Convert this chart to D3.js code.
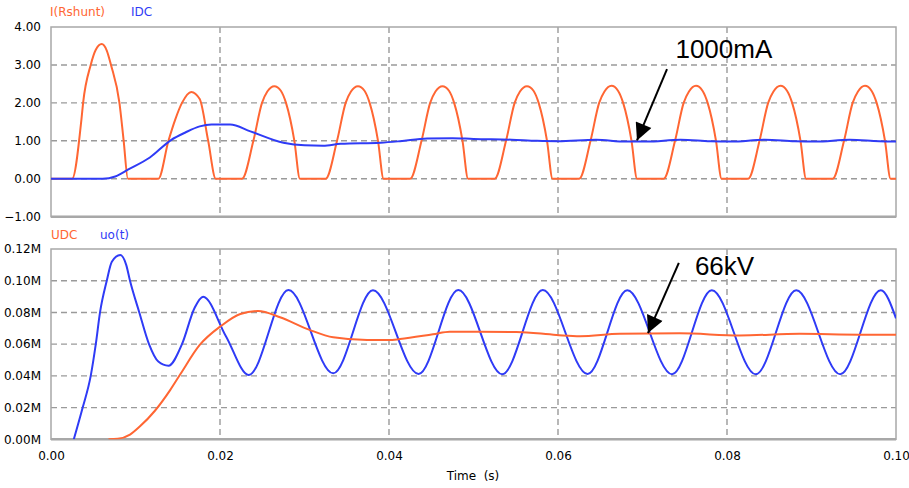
<!DOCTYPE html>
<html>
<head>
<meta charset="utf-8">
<script src="https://cdn.jsdelivr.net/npm/d3@7"></script>
<style>
  body { margin: 0; background: #fff; }
  text { font-family: "DejaVu Sans", sans-serif; }
</style>
</head>
<body>
<div id="drawing"></div>
<script>
// time in ms
const iShunt = [
  [0,0],[2.5,0],[3.6,1.56],[3.8,2.0],[4.7,3.0],[5.3,3.4],[6.0,3.55],[6.6,3.38],[7.1,3.0],[8.1,2.0],[8.6,1.0],[9.1,0],
  [12.7,0],[13.9,1.0],[14.7,1.56],[15.5,2.0],[16.6,2.29],[17.6,2.1],[18.6,1.0],[19.5,0],
  [22.6,0],[23.95,1.0],[24.97,2.0],[25.6,2.3],[26.43,2.44],[27.2,2.32],[27.81,2.0],[28.8,1.0],[29.46,0],
  [32.5,0],[33.85,1.0],[34.87,2.0],[35.5,2.3],[36.33,2.44],[37.1,2.32],[37.71,2.0],[38.7,1.0],[39.36,0],
  [42.5,0],[43.85,1.0],[44.87,2.0],[45.5,2.3],[46.33,2.44],[47.1,2.32],[47.71,2.0],[48.7,1.0],[49.36,0],
  [52.5,0],[53.85,1.0],[54.87,2.0],[55.5,2.3],[56.33,2.44],[57.1,2.32],[57.71,2.0],[58.7,1.0],[59.36,0],
  [62.5,0],[63.85,1.0],[64.87,2.0],[65.5,2.3],[66.33,2.45],[67.1,2.32],[67.71,2.0],[68.7,1.0],[69.36,0],
  [72.5,0],[73.85,1.0],[74.87,2.0],[75.5,2.3],[76.33,2.45],[77.1,2.32],[77.71,2.0],[78.7,1.0],[79.36,0],
  [82.5,0],[83.85,1.0],[84.87,2.0],[85.5,2.3],[86.33,2.45],[87.1,2.32],[87.71,2.0],[88.7,1.0],[89.36,0],
  [92.5,0],[93.85,1.0],[94.87,2.0],[95.5,2.3],[96.33,2.45],[97.1,2.32],[97.71,2.0],[98.7,1.0],[99.36,0],
  [100,0]
];
const iDC = [
  [0,0],[6.1,0],[7.6,0.06],[9.1,0.24],[11.7,0.56],[14.2,1.02],[15.9,1.22],[17.6,1.38],[19.0,1.43],[21.2,1.43],
  [23.6,1.25],[27.5,0.95],[30,0.88],[32.2,0.87],[34.3,0.92],[39,0.95],[41.3,0.99],
  [44.5,1.06],[47.5,1.07],[50,1.05],[54.5,1.03],[57.5,1.0],[60,0.99],[64.5,1.03],[68,0.98],[70.5,0.98],
  [74.5,1.03],[78,0.99],[80.5,0.98],[84.5,1.03],[88,0.99],[90.5,0.98],[94.5,1.03],[98,0.99],[100,0.98]
];
const uDC = [
  [6.8,0],[7.9,0.0003],[9.35,0.003],[10.5,0.008],[12.3,0.018],[14.1,0.031],[15.3,0.041],[17.6,0.0595],
  [20.1,0.0714],[22.4,0.079],[24.5,0.0809],[27.1,0.077],[30.6,0.069],[33.4,0.0643],[37.4,0.0626],[40,0.0626],
  [41.3,0.0632],[45.2,0.0662],[47.2,0.0678],[55.1,0.0677],[59.8,0.0658],[62.6,0.065],[67.3,0.0665],
  [74.4,0.0668],[81.5,0.0655],[88.6,0.0665],[95.7,0.066],[100,0.066]
];
const uo = [
  [2.7,0],[3.75,0.02],[4.7,0.04],[5.3,0.06],[5.8,0.08],[6.6,0.10],[7.2,0.112],[8.2,0.1162],[8.9,0.11],
  [9.35,0.10],[10.45,0.08],[11.6,0.06],[12.7,0.049],[13.9,0.0464],[15.5,0.06],[17.0,0.083],[18.0,0.0899],
  [20.7,0.065],[23.4,0.0405],[28.1,0.0941],[33.4,0.0416],[38.1,0.094],[43.5,0.0412],[48.2,0.0941],
  [53.4,0.041],[58.2,0.0941],[63.5,0.0412],[68.2,0.094],[73.5,0.041],[78.2,0.094],[83.4,0.041],
  [88.2,0.094],[93.4,0.041],[98.2,0.094],[100,0.0763]
];
const topTicks = [4, 3, 2, 1, 0, -1];
const botTicks = [0.12, 0.10, 0.08, 0.06, 0.04, 0.02, 0.00];
const timeTicks = [0, 0.02, 0.04, 0.06, 0.08, 0.10];

const width = 909, height = 488;
const orange = "#ff6633", blue = "#2f3bf6", grid = "#9a9a9a", frame = "#a8a8a8";

const svg = d3.select("#drawing").append("svg")
  .attr("width", width).attr("height", height)
  .style("background", "#fff");

const x = d3.scaleLinear().domain([0, 0.1]).range([51, 896]);
const yTop = d3.scaleLinear().domain([-1, 4]).range([216.7, 27]);
const yBot = d3.scaleLinear().domain([0, 0.12]).range([439.3, 249]);

function panel(y, ticks, fmt, id) {
  const g = svg.append("g");
  const [y0, y1] = y.range();
  g.append("clipPath").attr("id", id).append("rect")
    .attr("x", x(0)).attr("y", y1).attr("width", x(0.1) - x(0)).attr("height", y0 - y1);
  // grid
  g.selectAll(".hg").data(ticks.filter(t => t !== y.domain()[0] && t !== y.domain()[1]))
    .enter().append("line")
    .attr("x1", x(0)).attr("x2", x(0.1))
    .attr("y1", d => y(d)).attr("y2", d => y(d))
    .style("stroke", grid).style("stroke-width", 1.4).style("stroke-dasharray", "6,4");
  g.selectAll(".vg").data(timeTicks.slice(1, -1))
    .enter().append("line")
    .attr("x1", d => x(d)).attr("x2", d => x(d))
    .attr("y1", y1).attr("y2", y0)
    .style("stroke", grid).style("stroke-width", 1.4).style("stroke-dasharray", "6,4");
  // frame
  g.append("rect")
    .attr("x", x(0)).attr("y", y1).attr("width", x(0.1) - x(0)).attr("height", y0 - y1)
    .style("fill", "none").style("stroke", frame).style("stroke-width", 1.5);
  g.append("line").attr("x1", x(0)).attr("x2", x(0.1)).attr("y1", y0).attr("y2", y0)
    .style("stroke", frame).style("stroke-width", 2.5);
  // y tick labels
  const ax = g.append("g").attr("transform", `translate(${x(0)},0)`)
    .call(d3.axisLeft(y).tickValues(ticks).tickFormat(fmt).tickSize(0).tickPadding(10));
  ax.select(".domain").remove();
  ax.selectAll("text").style("font-family", "DejaVu Sans, sans-serif").style("font-size", "12px").style("fill", "#000");
  return g;
}

const gTop = panel(yTop, topTicks, d => d3.format(".2f")(d), "clipTop");
const gBot = panel(yBot, botTicks, d => d3.format(".2f")(d) + "M", "clipBot");

// x axis labels
const xa = svg.append("g").attr("transform", `translate(0,${yBot(0)})`)
  .call(d3.axisBottom(x).tickValues(timeTicks).tickFormat(d3.format(".2f")).tickSize(0).tickPadding(12));
xa.select(".domain").remove();
xa.selectAll("text").style("font-family", "DejaVu Sans, sans-serif").style("font-size", "12px").style("fill", "#000");

svg.append("text").attr("x", 473).attr("y", 480).attr("text-anchor", "middle")
  .style("font-size", "12px").style("white-space", "pre").text("Time  (s)");

// traces
function trace(g, data, y, color, clip) {
  g.append("path").datum(data)
    .attr("clip-path", `url(#${clip})`)
    .attr("d", d3.line().x(d => x(d[0] / 1000)).y(d => y(d[1])).curve(d3.curveMonotoneX))
    .style("fill", "none").style("stroke", color).style("stroke-width", 2);
}
trace(gTop, iShunt, yTop, orange, "clipTop");
trace(gTop, iDC, yTop, blue, "clipTop");
trace(gBot, uo, yBot, blue, "clipBot");
trace(gBot, uDC, yBot, orange, "clipBot");

// legends
const legends = [
  {x: 50, y: 16, text: "I(Rshunt)", color: orange},
  {x: 131, y: 16, text: "IDC", color: blue},
  {x: 51, y: 239, text: "UDC", color: orange},
  {x: 100, y: 239, text: "uo(t)", color: blue}
];
svg.selectAll(".leg").data(legends).enter().append("text")
  .attr("x", d => d.x).attr("y", d => d.y)
  .style("font-size", "12px").style("fill", d => d.color).text(d => d.text);

// annotations
svg.append("defs").append("marker")
  .attr("id", "head").attr("markerUnits", "userSpaceOnUse")
  .attr("viewBox", "0 0 10 10").attr("refX", 10).attr("refY", 5)
  .attr("markerWidth", 20).attr("markerHeight", 17).attr("orient", "auto")
  .append("path").attr("d", "M0,0L10,5L0,10z").style("fill", "#000");

const notes = [
  {label: "1000mA", y: yTop, tx: 0.0739, tv: 3.18, fx: 0.0729, fv: 2.89, px: 0.06935, pv: 1.01},
  {label: "66kV", y: yBot, tx: 0.0762, tv: 0.1036, fx: 0.0743, fv: 0.1112, px: 0.07065, pv: 0.067}
];
notes.forEach(n => {
  svg.append("line")
    .attr("x1", x(n.fx)).attr("y1", n.y(n.fv)).attr("x2", x(n.px)).attr("y2", n.y(n.pv))
    .attr("marker-end", "url(#head)")
    .style("stroke", "#000").style("stroke-width", 2);
  svg.append("text").attr("x", x(n.tx)).attr("y", n.y(n.tv))
    .style("font-family", "Liberation Sans, Arial, sans-serif").style("font-size", "26px")
    .style("fill", "#000").text(n.label);
});
</script>
</body>
</html>
